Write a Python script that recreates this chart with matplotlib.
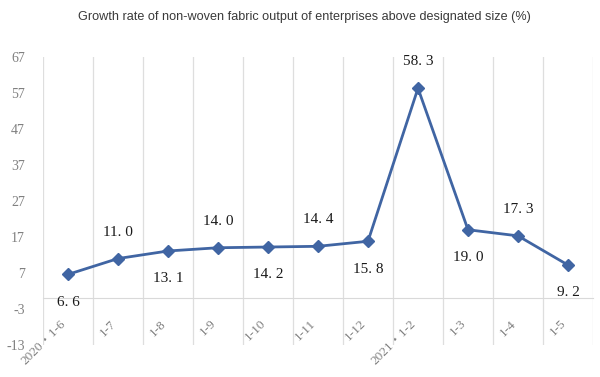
import matplotlib.pyplot as plt
from matplotlib.ticker import FixedLocator

# data
periods = ['2020\u30fb1-6', '1-7', '1-8', '1-9', '1-10', '1-11', '1-12',
           '2021\u30fb1-2', '1-3', '1-4', '1-5']
growth = [6.6, 11.0, 13.1, 14.0, 14.2, 14.4, 15.8, 58.3, 19.0, 17.3, 9.2]
label_side = [-1, 1, -1, 1, -1, 1, -1, 1, -1, 1, -1]
y_ticks = [-13, -3, 7, 17, 27, 37, 47, 57, 67]

serif = ['Liberation Serif', 'Noto Sans CJK SC', 'DejaVu Serif']
line_color = '#4065A3'

fig = plt.figure(figsize=(6, 3.77), dpi=100)
ax = fig.add_axes([0.0717, 0.085, 0.9166, 0.764])

# axis line sits at zero, set before ticks (set_position resets them)
for s in ['top', 'right', 'left']:
    ax.spines[s].set_visible(False)
ax.spines['bottom'].set_position(('data', 0))
ax.spines['bottom'].set_color('#d9d9d9')

x = list(range(len(periods)))
ax.plot(x, growth, color=line_color, lw=2, marker='D', ms=6,
        markerfacecolor=line_color, markeredgecolor=line_color, zorder=3)

for i, v in enumerate(growth):
    off = 19 if label_side[i] > 0 else -20
    ax.annotate(f'{v:.1f}'.replace('.', '. '), (i, v), xytext=(0, off),
                textcoords='offset points', ha='center', va='center',
                fontsize=11, family=serif, color='#1a1a1a', zorder=4)

ax.set_xlim(-0.5, len(periods) - 0.5)
ax.set_ylim(-13, 67)
ax.set_yticks(y_ticks)
ax.set_yticklabels([str(t) for t in y_ticks], family=serif, fontsize=10,
                   color='#808080')

ax.set_xticks(x)
ax.set_xticklabels(periods, rotation=45, ha='right', va='top',
                   family=serif, fontsize=9.5, color='#808080')
ax.xaxis.set_minor_locator(FixedLocator([i - 0.5 for i in range(len(periods) + 1)]))
ax.grid(axis='x', which='minor', color='#dedede', lw=0.9)
ax.tick_params(axis='both', which='both', length=0)
ax.tick_params(axis='y', pad=13)
ax.tick_params(axis='x', pad=14)

fig.text(0.508, 0.955, 'Growth rate of non-woven fabric output of enterprises above designated size (%)',
         ha='center', va='center', fontsize=9.1, color='#3a3a3a',
         family='Liberation Sans')

fig.savefig('out.png', dpi=100)
